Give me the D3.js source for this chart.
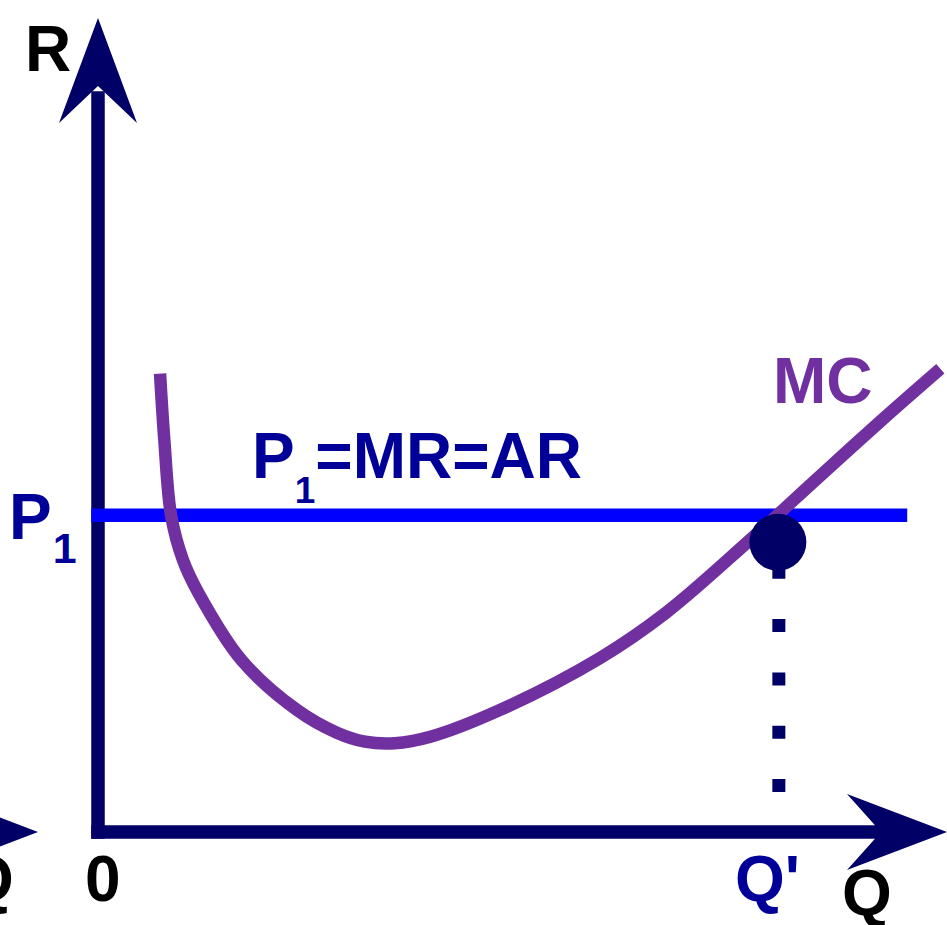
<!DOCTYPE html>
<html>
<head>
<meta charset="utf-8">
<script src="https://cdn.jsdelivr.net/npm/d3@7"></script>
<style>
    html, body { margin: 0; padding: 0; background: #fff; }
    svg { display: block; }
    text { font-family: "Liberation Sans", Arial, sans-serif; font-weight: bold; }
</style>
</head>
<body>
<div id="chart"></div>
<script>
// MC curve (quantity, cost) in chart units 0..100
const mcQ    = [7.3, 7.8, 8.6, 10.0, 11.8, 16.9, 23.4, 28.1, 31.4, 34.9, 39.1, 47.3, 59.1, 66.9, 76.4, 84.8, 92.0, 99.1];
const mcCost = [56.3, 48.2, 38.9, 33.4, 29.4, 21.1, 15.0, 12.2, 11.1, 10.9, 11.7, 15.0, 21.4, 27.0, 35.6, 43.6, 50.4, 56.9];

const priceP1 = 38.9;      // P1 = MR = AR
const priceLineEnd = 95.2;
const qPrime = 80.1;       // Q'
const dotCost = 35.6;
const dropTop = 32.7;

const width = 947, height = 925;

const x = d3.scaleLinear().domain([0, 100]).range([98, 948]);
const y = d3.scaleLinear().domain([0, 100]).range([832, 18]);

const navy = '#000066';
const textBlue = '#000099';
const lineBlue = '#0000ff';
const purple = '#7030a0';

const svg = d3.select('#chart').append('svg')
    .attr('width', width)
    .attr('height', height);

// Axes
const axisW = 13.5;
svg.append('line')
    .attr('x1', x(0)).attr('x2', x(0))
    .attr('y1', y(0) + axisW / 2).attr('y2', y(91))
    .attr('stroke', navy).attr('stroke-width', axisW);

svg.append('line')
    .attr('x1', x(0) - axisW / 2).attr('x2', x(92.5))
    .attr('y1', y(0)).attr('y2', y(0))
    .attr('stroke', navy).attr('stroke-width', axisW);

// arrow heads
svg.append('path')
    .attr('d', `M${x(0)},${y(100)} L${x(0) - 39},${y(100) + 105} L${x(0)},${y(100) + 68} L${x(0) + 39},${y(100) + 105} Z`)
    .attr('fill', navy);

const arrowX = (tip) => `M${tip},${y(0)} L${tip - 100},${y(0) - 38} L${tip - 66},${y(0)} L${tip - 100},${y(0) + 38} Z`;
svg.append('path').attr('d', arrowX(x(100) - 1)).attr('fill', navy);
// arrow of the neighbouring graph, cut by the left edge
svg.append('path').attr('d', arrowX(38)).attr('fill', navy);

// Price line
svg.append('line')
    .attr('x1', x(0) - axisW / 2).attr('x2', x(priceLineEnd))
    .attr('y1', y(priceP1)).attr('y2', y(priceP1))
    .attr('stroke', lineBlue).attr('stroke-width', 13.5);

// MC curve
const mcData = mcQ.map((q, i) => ({ q, c: mcCost[i] }));
const mcLine = d3.line()
    .x(d => x(d.q))
    .y(d => y(d.c))
    .curve(d3.curveCatmullRom.alpha(0.5));

svg.append('path')
    .datum(mcData)
    .attr('d', mcLine)
    .attr('fill', 'none')
    .attr('stroke', purple)
    .attr('stroke-width', 12.5);

// Dotted drop line to Q'
svg.append('line')
    .attr('x1', x(qPrime)).attr('x2', x(qPrime))
    .attr('y1', y(dropTop)).attr('y2', y(0) - axisW / 2)
    .attr('stroke', navy).attr('stroke-width', 13)
    .attr('stroke-dasharray', '13 40.3');

svg.append('circle')
    .attr('cx', x(qPrime) - 1).attr('cy', y(dotCost))
    .attr('r', 28.5)
    .attr('fill', navy);

// Labels
const label = (tx, ty, txt, color) => svg.append('text')
    .attr('x', tx).attr('y', ty)
    .attr('font-size', 64)
    .attr('fill', color)
    .text(txt);

label(25, 71, 'R', '#000');
label(85, 901, '0', '#000');
label(842, 915, 'Q', '#000');
label(-36, 901, 'Q', '#000');   // label of the neighbouring graph, cut off
label(735, 901, "Q'", textBlue);
label(773, 403, 'MC', purple);

// P1 on the axis
const p1 = svg.append('text')
    .attr('x', 9).attr('y', 539)
    .attr('font-size', 64)
    .attr('fill', textBlue);
p1.append('tspan').text('P');
p1.append('tspan').attr('font-size', 43).attr('dy', 24).attr('dx', 1).text('1');

// P1=MR=AR
const title = svg.append('text')
    .attr('x', 252).attr('y', 478)
    .attr('font-size', 64)
    .attr('fill', textBlue);
title.append('tspan').text('P');
title.append('tspan').attr('font-size', 37).attr('dy', 25).text('1');
title.append('tspan').attr('dy', -25).text('=MR=AR');
</script>
</body>
</html>
